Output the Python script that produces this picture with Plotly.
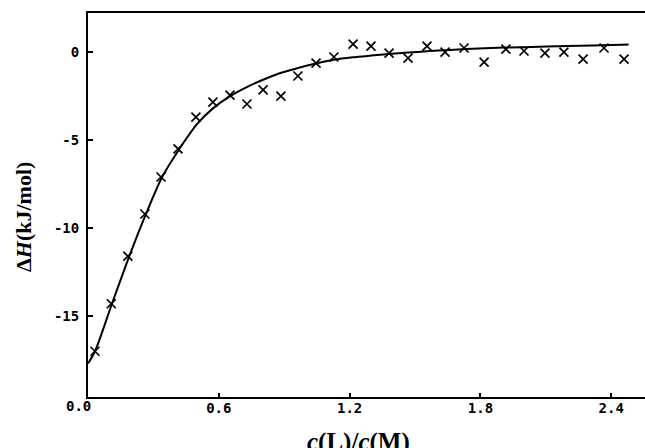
import plotly.graph_objects as go

# measured data points (x = c(L)/c(M), y = ΔH in kJ/mol)
ratio = [0.032, 0.107, 0.183, 0.261, 0.335, 0.413, 0.495, 0.573, 0.651, 0.729,
         0.803, 0.885, 0.963, 1.046, 1.128, 1.216, 1.298, 1.381, 1.468, 1.555,
         1.638, 1.725, 1.817, 1.917, 2.000, 2.096, 2.183, 2.271, 2.367, 2.459]
dH = [-17.0, -14.3, -11.6, -9.2, -7.1, -5.5, -3.7, -2.85, -2.45, -2.95,
      -2.15, -2.5, -1.36, -0.63, -0.28, 0.45, 0.34, -0.06, -0.34, 0.34,
      0.0, 0.23, -0.57, 0.17, 0.06, -0.06, 0.0, -0.4, 0.23, -0.4]

# fitted curve
fit_x = [0.0, 0.032, 0.11, 0.188, 0.266, 0.34, 0.417, 0.5, 0.573, 0.65, 0.74,
         0.817, 0.89, 0.963, 1.046, 1.128, 1.215, 1.3, 1.38, 1.468, 1.555,
         1.64, 1.82, 2.0, 2.2, 2.45, 2.48]
fit_y = [-17.7, -17.0, -14.3, -11.65, -9.2, -7.1, -5.55, -4.1, -3.2, -2.52, -1.92,
         -1.5, -1.16, -0.91, -0.65, -0.44, -0.3, -0.2, -0.11, -0.03, 0.05,
         0.11, 0.22, 0.28, 0.34, 0.42, 0.43]

x_ticks = [0.6, 1.2, 1.8, 2.4]
x_tick_text = ["0.6", "1.2", "1.8", "2.4"]
y_ticks = [0, -5, -10, -15]
y_tick_text = ["0", "-5", "-10", "-15"]

W, H = 645, 448
l, r, t, b = 88, 0, 13, 51
pw, ph = W - l - r, H - t - b

fig = go.Figure()
fig.add_trace(go.Scatter(x=fit_x, y=fit_y, mode="lines",
                         line=dict(color="black", width=2, shape="spline", smoothing=0.8),
                         showlegend=False))
fig.add_trace(go.Scatter(x=ratio, y=dH, mode="markers",
                         marker=dict(symbol="x-thin-open", size=9, color="black",
                                     line=dict(color="black", width=1.7)),
                         showlegend=False))

tickfont = dict(family="DejaVu Sans Mono", size=14, color="black", weight="bold")

fig.update_layout(
    width=W, height=H,
    margin=dict(l=l, r=r, t=t, b=b, autoexpand=False),
    paper_bgcolor="white", plot_bgcolor="white",
    xaxis=dict(range=[0, 2.555], tickvals=x_ticks, ticktext=x_tick_text,
               ticks="inside", ticklen=4, tickwidth=1.5, tickcolor="black",
               showline=True, linecolor="black", linewidth=2, mirror=True,
               showgrid=False, zeroline=False, tickfont=tickfont, automargin=False,
               ticklabelstandoff=-3),
    yaxis=dict(range=[-19.6, 2.22], tickvals=y_ticks, ticktext=y_tick_text,
               ticks="inside", ticklen=5, tickwidth=1.5, tickcolor="black",
               showline=True, linecolor="black", linewidth=2,
               showgrid=False, zeroline=False, tickfont=tickfont, automargin=False,
               ticklabelstandoff=4),
    annotations=[
        dict(text="0.0", x=0, y=0, xref="x", yref="paper", xanchor="right",
             yanchor="top", xshift=5, yshift=1, showarrow=False, font=tickfont),
        dict(text="<i>c</i>(L)/<i>c</i>(M)", x=(358 - l) / pw, y=(H - b - 442) / ph,
             xref="paper", yref="paper", xanchor="center", yanchor="middle",
             showarrow=False,
             font=dict(family="Liberation Serif", size=25, color="black", weight="bold")),
        dict(text="Δ<i>H</i>(kJ/mol)", x=(23 - l) / pw, y=(H - b - 217) / ph,
             xref="paper", yref="paper", xanchor="center", yanchor="middle",
             showarrow=False, textangle=-90,
             font=dict(family="Liberation Serif", size=22, color="black", weight="bold")),
    ],
)

fig.write_html("out.html", config={"displayModeBar": False},
               post_script="document.body.style.margin='0';document.body.style.overflow='hidden';")
